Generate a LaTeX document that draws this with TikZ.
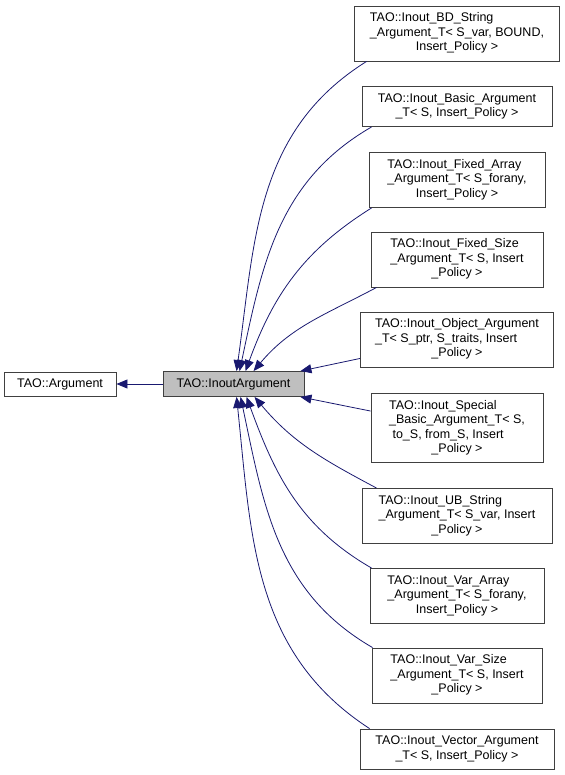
\documentclass[tikz,border=0pt]{standalone}
\usepackage{fontspec}
\setmainfont{Liberation Sans}
\usetikzlibrary{arrows.meta}
\definecolor{edgeblue}{HTML}{191970}
\newcommand{\cls}[2]{\begin{tabular}{@{}l@{}}#1\\\multicolumn{1}{@{}c@{}}{#2}\end{tabular}}

\begin{document}
\begin{tikzpicture}[x=1pt, y=1pt,
    cls/.style={draw=black!75, fill=white, line width=0.9pt, inner sep=0pt,
      font=\fontsize{12.5}{14.5}\selectfont},
    inh/.style={draw=edgeblue, line width=0.8pt, -{Triangle[length=11pt, width=9pt]}}]
      \useasboundingbox (0,0) rectangle (564,-775);

      \node[cls, minimum width=112, minimum height=24] (arg) at (60,-384) {TAO::Argument};
      \node[cls, fill=black!25, minimum width=141, minimum height=25] (inout) at (233.5,-384) {TAO::InoutArgument};

      \node[cls, minimum width=205, minimum height=55] (bd) at (457,-33.5)
        {\cls{TAO::Inout\_BD\_String\\\_Argument\_T< S\_var, BOUND,}{Insert\_Policy >}};
      \node[cls, minimum width=190, minimum height=40] (basic) at (457,-106.5)
        {\cls{TAO::Inout\_Basic\_Argument}{\_T< S, Insert\_Policy >}};
      \node[cls, minimum width=176, minimum height=55] (fixarr) at (457,-180)
        {\cls{TAO::Inout\_Fixed\_Array\\\_Argument\_T< S\_forany,}{Insert\_Policy >}};
      \node[cls, minimum width=172, minimum height=55] (fixsize) at (457,-259.5)
        {\cls{TAO::Inout\_Fixed\_Size\\\_Argument\_T< S, Insert}{\_Policy >}};
      \node[cls, minimum width=193, minimum height=55] (object) at (457,-339.5)
        {\cls{TAO::Inout\_Object\_Argument\\\_T< S\_ptr, S\_traits, Insert}{\_Policy >}};
      \node[cls, minimum width=172, minimum height=69] (special) at (457,-428)
        {\cls{TAO::Inout\_Special\\\_Basic\_Argument\_T< S,\\\ to\_S, from\_S, Insert}{\_Policy >}};
      \node[cls, minimum width=190, minimum height=55] (ubstr) at (457,-516)
        {\cls{TAO::Inout\_UB\_String\\\_Argument\_T< S\_var, Insert}{\_Policy >}};
      \node[cls, minimum width=174, minimum height=55] (vararr) at (457,-596)
        {\cls{TAO::Inout\_Var\_Array\\\_Argument\_T< S\_forany,}{Insert\_Policy >}};
      \node[cls, minimum width=170, minimum height=55] (varsize) at (457,-675.5)
        {\cls{TAO::Inout\_Var\_Size\\\_Argument\_T< S, Insert}{\_Policy >}};
      \node[cls, minimum width=194, minimum height=40] (vector) at (457,-749)
        {\cls{TAO::Inout\_Vector\_Argument}{\_T< S, Insert\_Policy >}};

      \draw[inh] (inout) -- (arg);

      \draw[inh] ([xshift=12.5]bd.south west) to[out=212, in=82] ([xshift=74]inout.north west);
      \draw[inh] ([xshift=10]basic.south west) to[out=210, in=78] ([xshift=77]inout.north west);
      \draw[inh] ([xshift=3]fixarr.south west) to[out=212, in=70] ([xshift=83]inout.north west);
      \draw[inh] ([xshift=6]fixsize.south west) to[out=208, in=50] ([xshift=91]inout.north west);
      \draw[inh] ([yshift=9]object.south west) -- ([xshift=-4]inout.north east);
      \draw[inh] ([yshift=-18]special.north west) -- ([xshift=-4]inout.south east);
      \draw[inh] ([xshift=15]ubstr.north west) to[out=152, in=-50] ([xshift=92]inout.south west);
      \draw[inh] ([xshift=2]vararr.north west) to[out=150, in=-70] ([xshift=84]inout.south west);
      \draw[inh] ([xshift=1]varsize.north west) to[out=150, in=-78] ([xshift=78]inout.south west);
      \draw[inh] ([xshift=10]vector.north west) to[out=147, in=-84] ([xshift=74]inout.south west);
    \end{tikzpicture}
\end{document}
